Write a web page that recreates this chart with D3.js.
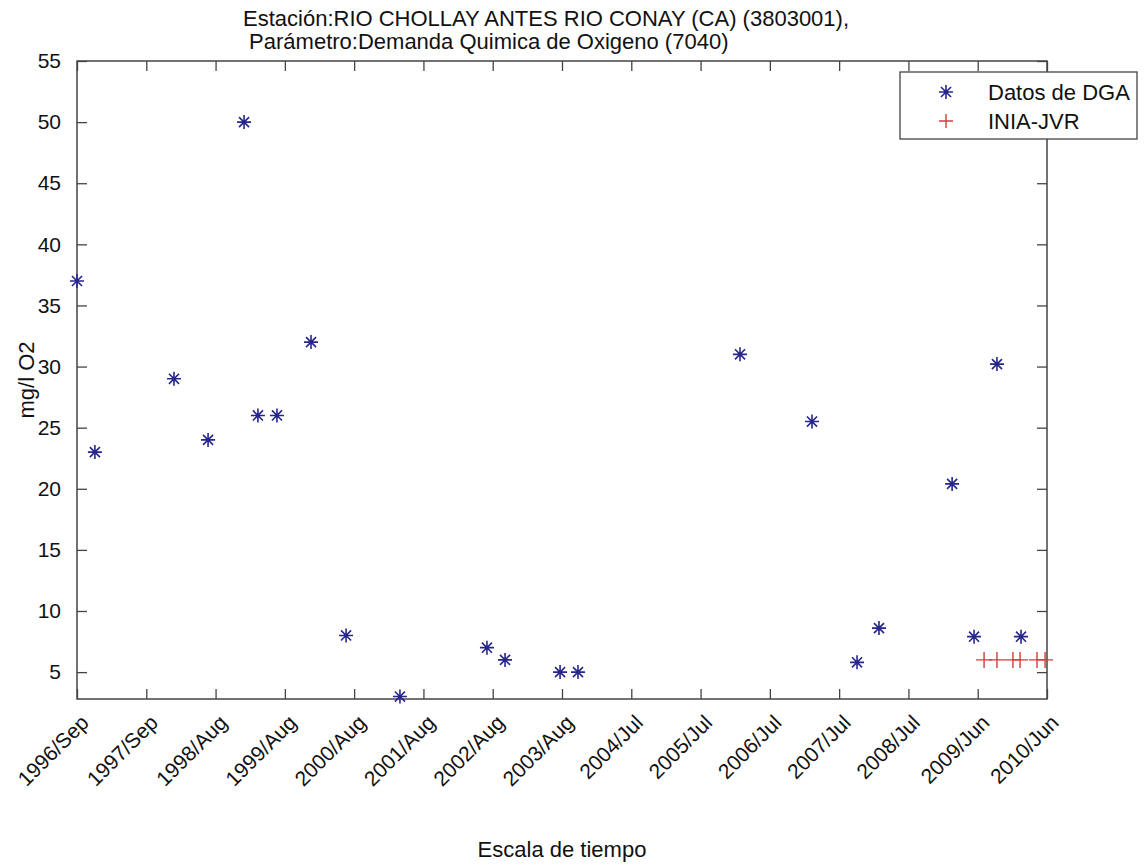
<!DOCTYPE html>
<html>
<head>
<meta charset="utf-8">
<script src="https://cdn.jsdelivr.net/npm/d3@7"></script>
<style>
body { margin: 0; background: #fff; }
text { font-family: "Liberation Sans", Arial, sans-serif; fill: #111; }
</style>
</head>
<body>
<div id="chart"></div>
<script>
// datos DGA (fecha de muestreo, mg/l O2)
const dgaDates = ["1996-09-06", "1996-12-08", "1998-01-23", "1998-07-19", "1999-01-22", "1999-04-04",
    "1999-07-12", "2000-01-05", "2000-07-05", "2001-04-11", "2002-07-07", "2002-10-09",
    "2003-07-22", "2003-10-23", "2006-02-11", "2007-02-20", "2007-10-12", "2008-02-03",
    "2009-02-17", "2009-06-11", "2009-10-08", "2010-02-10"];
const dgaValues = [37, 23, 29, 24, 50, 26, 26, 32, 8, 3, 7, 6, 5, 5, 31, 25.5, 5.8, 8.6, 20.4, 7.9, 30.2, 7.9];

// datos INIA-JVR
const iniaDates = ["2009-08-02", "2009-10-08", "2009-12-30", "2010-02-05", "2010-05-04", "2010-06-15"];
const iniaValues = [6, 6, 6, 6, 6, 6];

// ejes
const xDomain = ["1996-09-06", "2010-06-25"];
const yDomain = [2.8, 55];
const yTicks = [5, 10, 15, 20, 25, 30, 35, 40, 45, 50, 55];
const xTickLabels = ["1996/Sep", "1997/Sep", "1998/Aug", "1999/Aug", "2000/Aug", "2001/Aug", "2002/Aug",
    "2003/Aug", "2004/Jul", "2005/Jul", "2006/Jul", "2007/Jul", "2008/Jul", "2009/Jun", "2010/Jun"];

const titleLines = ["Estación:RIO CHOLLAY ANTES RIO CONAY (CA) (3803001),", " Parámetro:Demanda Quimica de Oxigeno (7040)"];
const legendLabels = ["Datos de DGA", "INIA-JVR"];

const width = 1145, height = 866;
const plot = { left: 77, right: 1047, top: 61, bottom: 699 };
const axisColor = "#444";
const blue = "#26268c";
const red = "#d23c3c";

const parse = d3.timeParse("%Y-%m-%d");

const svg = d3.select("#chart").append("svg")
    .attr("width", width)
    .attr("height", height)
    .style("background", "#fff");

const x = d3.scaleTime()
    .domain(xDomain.map(parse))
    .range([plot.left, plot.right]);
const y = d3.scaleLinear()
    .domain(yDomain)
    .range([plot.bottom, plot.top]);

// ticks repartidos igual en el rango de tiempo
const xTickDates = xTickLabels.map((d, i) => {
    const t0 = x.domain()[0].getTime(), t1 = x.domain()[1].getTime();
    return new Date(t0 + (t1 - t0) * i / (xTickLabels.length - 1));
});

// ejes con ticks hacia adentro, en los cuatro lados
function styleAxis(g) {
    g.select(".domain").remove();
    g.selectAll(".tick line").attr("stroke", axisColor).attr("stroke-width", 1.3);
}
svg.append("g")
    .attr("transform", `translate(0,${plot.bottom})`)
    .call(d3.axisBottom(x).tickValues(xTickDates).tickSize(-10).tickFormat(""))
    .call(styleAxis);
svg.append("g")
    .attr("transform", `translate(0,${plot.top})`)
    .call(d3.axisTop(x).tickValues(xTickDates).tickSize(-10).tickFormat(""))
    .call(styleAxis);
svg.append("g")
    .attr("transform", `translate(${plot.left},0)`)
    .call(d3.axisLeft(y).tickValues(yTicks).tickSize(-10).tickPadding(16))
    .call(styleAxis)
    .selectAll("text")
    .style("font-size", "21px")
    .style("fill", "#111")
    .attr("font-family", null);
svg.append("g")
    .attr("transform", `translate(${plot.right},0)`)
    .call(d3.axisRight(y).tickValues(yTicks).tickSize(-10).tickFormat(""))
    .call(styleAxis);

// etiquetas de fecha giradas
svg.append("g").selectAll("text")
    .data(xTickDates)
    .join("text")
    .attr("transform", (d, i) => `translate(${x(d) + 13},${plot.bottom + 25}) rotate(-45)`)
    .attr("text-anchor", "end")
    .style("font-size", "21px")
    .text((d, i) => xTickLabels[i]);

// caja
svg.append("rect")
    .attr("x", plot.left)
    .attr("y", plot.top)
    .attr("width", plot.right - plot.left)
    .attr("height", plot.bottom - plot.top)
    .attr("fill", "none")
    .attr("stroke", axisColor)
    .attr("stroke-width", 1.5);

// marcadores
function starPath(r) {
    const k = r * 0.72;
    return `M${-r},0H${r}M0,${-r}V${r}M${-k},${-k}L${k},${k}M${-k},${k}L${k},${-k}`;
}
function plusPath(r) {
    return `M${-r},0H${r}M0,${-r}V${r}`;
}

const dga = dgaDates.map((d, i) => ({ date: parse(d), value: dgaValues[i] }));
const inia = iniaDates.map((d, i) => ({ date: parse(d), value: iniaValues[i] }));

svg.append("g").selectAll("path")
    .data(inia)
    .join("path")
    .attr("transform", d => `translate(${x(d.date)},${y(d.value)})`)
    .attr("d", plusPath(8))
    .attr("fill", "none")
    .attr("stroke", red)
    .attr("stroke-width", 1.4);

svg.append("g").selectAll("path")
    .data(dga)
    .join("path")
    .attr("transform", d => `translate(${x(d.date)},${y(d.value)})`)
    .attr("d", starPath(7))
    .attr("fill", "none")
    .attr("stroke", blue)
    .attr("stroke-width", 1.6);

// titulo
svg.append("g").selectAll("text")
    .data(titleLines)
    .join("text")
    .attr("x", 243)
    .attr("y", (d, i) => 26 + i * 23)
    .attr("xml:space", "preserve")
    .style("white-space", "pre")
    .style("font-size", "22px")
    .text(d => d);

// etiquetas de ejes
svg.append("text")
    .attr("transform", `translate(34,${(plot.top + plot.bottom) / 2}) rotate(-90)`)
    .attr("text-anchor", "middle")
    .style("font-size", "22px")
    .text("mg/l O2");
svg.append("text")
    .attr("x", (plot.left + plot.right) / 2)
    .attr("y", 857)
    .attr("text-anchor", "middle")
    .style("font-size", "22px")
    .text("Escala de tiempo");

// leyenda
const legend = svg.append("g").attr("transform", "translate(900,72)");
legend.append("rect")
    .attr("width", 237)
    .attr("height", 67)
    .attr("fill", "#fff")
    .attr("stroke", axisColor)
    .attr("stroke-width", 1.3);
legend.append("path")
    .attr("transform", "translate(46,20)")
    .attr("d", starPath(7))
    .attr("fill", "none")
    .attr("stroke", blue)
    .attr("stroke-width", 1.6);
legend.append("path")
    .attr("transform", "translate(46,49)")
    .attr("d", plusPath(7))
    .attr("fill", "none")
    .attr("stroke", red)
    .attr("stroke-width", 1.4);
legend.selectAll("text.lbl")
    .data(legendLabels)
    .join("text")
    .attr("class", "lbl")
    .attr("x", 88)
    .attr("y", (d, i) => 20 + i * 29)
    .attr("dy", "0.36em")
    .style("font-size", "22px")
    .text(d => d);
</script>
</body>
</html>
